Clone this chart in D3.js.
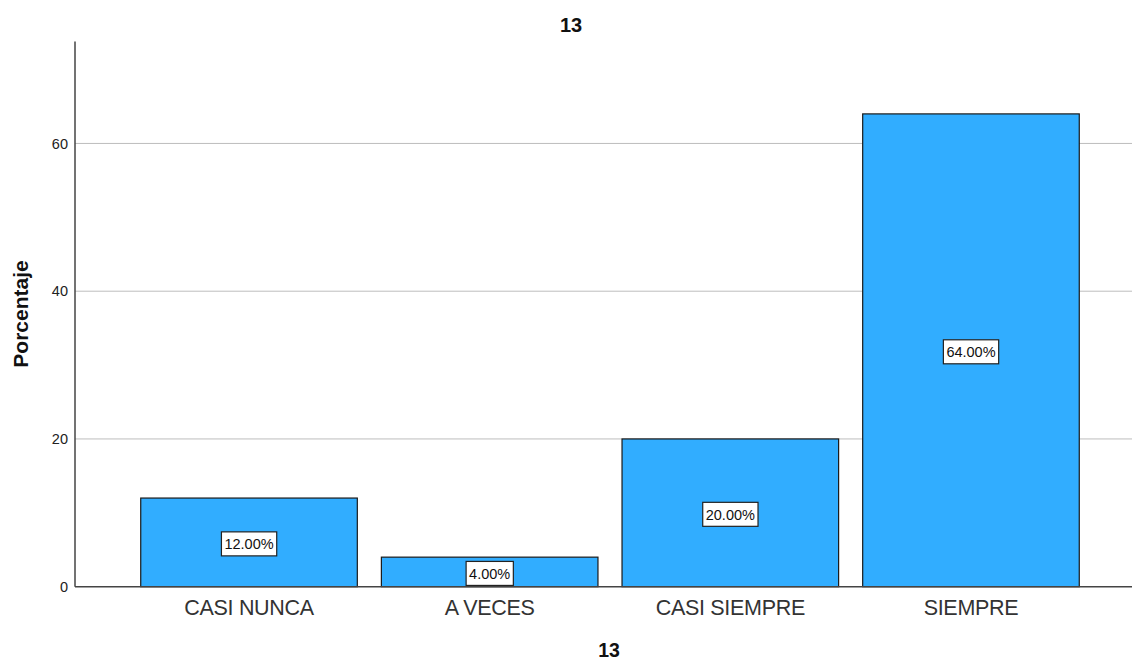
<!DOCTYPE html>
<html><head><meta charset="utf-8">
<script src="https://cdn.jsdelivr.net/npm/d3@7"></script>
<style>body{margin:0;background:#fff}svg{display:block;font-family:Arial,"Liberation Sans",sans-serif}</style>
</head><body><svg id="c" width="1132" height="661"></svg>
<script>
const categories = ["CASI NUNCA", "A VECES", "CASI SIEMPRE", "SIEMPRE"];
const values = [12, 4, 20, 64];
const valueLabels = ["12.00%", "4.00%", "20.00%", "64.00%"];
const yTicks = [0, 20, 40, 60];
const title = "13";
const xTitle = "13";
const yTitle = "Porcentaje";

(function() {
const svg = d3.select("#c");
const mLeft = 75, mRight = 1132, mTop = 41.5, mBottom = 586.7;
const y = d3.scaleLinear().domain([0, 73.8]).range([mBottom, mTop]);
const x = d3.scaleBand().domain(categories).range([128.7, 1091.3]).paddingInner(0.1).paddingOuter(0.05);

// gridlines
svg.append("g").selectAll("line").data(yTicks.filter(d => d > 0)).join("line")
  .attr("x1", mLeft).attr("x2", mRight).attr("y1", d => y(d)).attr("y2", d => y(d))
  .attr("stroke", "#bdbdbd").attr("stroke-width", 1);

// bars
svg.append("g").selectAll("rect").data(values).join("rect")
  .attr("x", (d, i) => x(categories[i]))
  .attr("y", d => y(d))
  .attr("width", x.bandwidth())
  .attr("height", d => y(0) - y(d))
  .attr("fill", "#31adff").attr("stroke", "#1a1a1a").attr("stroke-width", 1.2);

// y axis
const yAxis = d3.axisLeft(y).tickValues(yTicks).tickSize(0).tickPadding(7);
const ga = svg.append("g").attr("transform", `translate(${mLeft},0)`).call(yAxis);
ga.select(".domain").attr("stroke", "#444").attr("stroke-width", 1.5).attr("d", `M0,${mTop}V${mBottom}`);
ga.selectAll("text").attr("font-size", 14.5).attr("fill", "#222").attr("font-family", "Arial, 'Liberation Sans', sans-serif");

// x axis
const xAxis = d3.axisBottom(x).tickSize(0).tickPadding(13);
const gx = svg.append("g").attr("transform", `translate(0,${mBottom})`).call(xAxis);
gx.select(".domain").attr("stroke", "#444").attr("stroke-width", 1.5).attr("d", `M${mLeft},0H${mRight}`);
gx.selectAll("text").attr("font-size", 21.5).attr("fill", "#333").attr("letter-spacing", "-0.3px")
  .attr("font-family", "Arial, 'Liberation Sans', sans-serif");

// value labels
const lab = svg.append("g").selectAll("g").data(values).join("g")
  .attr("transform", (d, i) => `translate(${x(categories[i]) + x.bandwidth() / 2},${(y(0) + y(d)) / 2 + 1.5})`);
lab.append("text").attr("text-anchor", "middle").attr("dy", "0.36em")
  .attr("font-size", 14.5).attr("fill", "#111").text((d, i) => valueLabels[i]);
lab.each(function() {
  const g = d3.select(this);
  const b = g.select("text").node().getBBox();
  g.insert("rect", "text").attr("x", b.x - 3).attr("y", -12).attr("width", b.width + 6).attr("height", 24)
    .attr("fill", "#fff").attr("stroke", "#222").attr("stroke-width", 1.2);
});

// titles
svg.append("text").attr("x", 571).attr("y", 31.5).attr("text-anchor", "middle")
  .attr("font-size", 20).attr("font-weight", "bold").attr("fill", "#111").text(title);
svg.append("text").attr("x", 609).attr("y", 657).attr("text-anchor", "middle")
  .attr("font-size", 19.5).attr("font-weight", "bold").attr("fill", "#111").text(xTitle);
svg.append("text").attr("transform", "translate(28,314) rotate(-90)").attr("text-anchor", "middle")
  .attr("font-size", 21).attr("font-weight", "bold").attr("fill", "#111").text(yTitle);
})();
</script></body></html>
